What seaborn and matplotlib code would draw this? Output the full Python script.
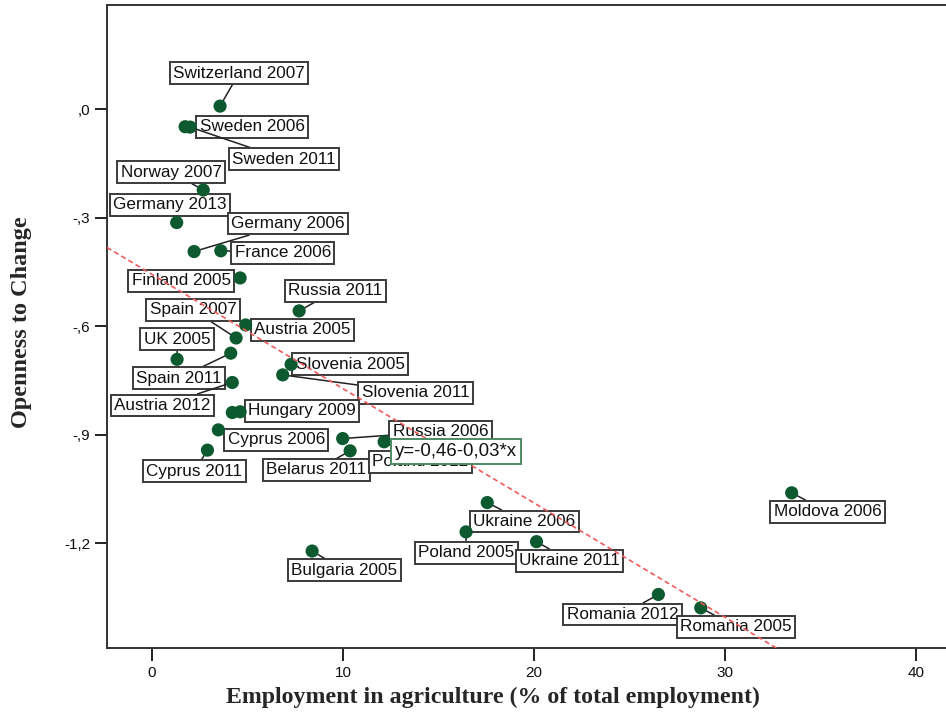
import matplotlib
matplotlib.use("Agg")
import matplotlib.pyplot as plt
import seaborn as sns
import pandas as pd
import numpy as np

# ---- data ----
labels = ["Switzerland 2007", "Sweden 2006", "Sweden 2011", "Norway 2007", "Germany 2013",
          "Germany 2006", "France 2006", "Finland 2005", "Russia 2011", "Spain 2007",
          "Austria 2005", "UK 2005", "Spain 2011", "Austria 2012", "Slovenia 2005",
          "Slovenia 2011", "Hungary 2009", "", "Cyprus 2006", "Cyprus 2011",
          "Belarus 2011", "Russia 2006", "Poland 2012", "Ukraine 2006", "Poland 2005",
          "Ukraine 2011", "Romania 2012", "Romania 2005", "Moldova 2006", "Bulgaria 2005"]
agriculture = [3.56, 1.73, 1.99, 2.68, 1.29,
               2.20, 3.60, 4.61, 7.70, 4.40,
               4.90, 1.31, 4.12, 4.20, 7.28,
               6.84, 4.61, 4.20, 3.47, 2.90,
               10.37, 9.98, 12.15, 17.55, 16.44,
               20.13, 26.51, 28.73, 33.49, 8.38]
openness = [0.008, -0.049, -0.050, -0.224, -0.314,
            -0.394, -0.392, -0.467, -0.558, -0.633,
            -0.597, -0.692, -0.675, -0.756, -0.706,
            -0.735, -0.837, -0.839, -0.887, -0.943,
            -0.945, -0.911, -0.920, -1.088, -1.169,
            -1.196, -1.342, -1.379, -1.061, -1.222]
equation = "y=-0,46-0,03*x"
x_ticks = [0, 10, 20, 30, 40]
x_ticklabels = ["0", "10", "20", "30", "40"]
y_ticks = [0.0, -0.3, -0.6, -0.9, -1.2]
y_ticklabels = [",0", "-,3", "-,6", "-,9", "-1,2"]

# ---- layout: label offsets in pixels (dx right, dy up) ----
label_offsets = [(19, 33), (67, 0), (94, -32), (-32, 18), (-7, 18),
                 (94, 28), (62, -2), (-59, -3), (36, 20), (-43, 28),
                 (57, -5), (0, 20), (-52, -25), (-70, -23), (59, 0),
                 (133, -18), (62, 1), (0, 0), (58, -10), (-13, -21),
                 (-34, -19), (98, 7), (36, -20), (37, -19), (0, -21),
                 (33, -19), (-36, -20), (35, -19), (36, -19), (32, -19)]

df = pd.DataFrame({"agri": agriculture, "open": openness, "label": labels})

sns.set_theme(style="white")
plt.rcParams["font.family"] = ["Liberation Sans", "DejaVu Sans"]

fig = plt.figure(figsize=(9.46, 7.15), dpi=100)
ax = fig.add_axes([107 / 946, 1 - 648 / 715, 1 - 107 / 946, (648 - 5) / 715])
ax.set_xlim(-2.36, 41.57)
ax.set_ylim(-1.490, 0.2875)

sns.regplot(data=df, x="agri", y="open", scatter=False, ci=None, truncate=False,
            ax=ax, line_kws=dict(color="#f05a5a", linestyle=(0, (3, 2)), linewidth=1.2, zorder=6))

sns.scatterplot(data=df, x="agri", y="open", ax=ax, color="#0d5a30", s=90,
                edgecolor="none", zorder=5, legend=False)

for (lab, xv, yv), (dx, dy) in zip(zip(labels, agriculture, openness), label_offsets):
    if not lab:
        continue
    ax.annotate(lab, xy=(xv, yv), xytext=(dx, dy), textcoords="offset pixels",
                ha="center", va="center", fontsize=12.3, color="#111111", zorder=4,
                bbox=dict(boxstyle="square,pad=0.2", fc="white", ec="#3a3a3a", lw=1.4),
                arrowprops=dict(arrowstyle="-", color="#222222", lw=1.1,
                                shrinkA=0, shrinkB=0))

ax.text(15.9, -0.947, equation, ha="center", va="center", fontsize=13.4, color="#111111",
        zorder=8, bbox=dict(boxstyle="square,pad=0.2", fc="white", ec="#4c8a64", lw=1.4))

ax.set_xticks(x_ticks)
ax.set_xticklabels(x_ticklabels, fontsize=11)
ax.set_yticks(y_ticks)
ax.set_yticklabels(y_ticklabels, fontsize=11)
ax.tick_params(axis="both", which="major", direction="out", length=9, width=1.4,
               color="#222222", labelcolor="#111111", bottom=True, left=True)
ax.tick_params(axis="x", pad=4)
ax.tick_params(axis="y", pad=3)

for side in ["left", "bottom", "top"]:
    ax.spines[side].set_visible(True)
    ax.spines[side].set_color("#333333")
    ax.spines[side].set_linewidth(1.4)
ax.spines["right"].set_visible(False)

ax.set_xlabel("")
ax.set_ylabel("")
fig.text(493 / 946, 1 - 697 / 715, "Employment in agriculture (% of total employment)",
         ha="center", va="center", fontsize=17.2, fontweight="bold",
         family=["Liberation Serif", "DejaVu Serif"])
fig.text(22 / 946, 1 - 322 / 715, "Openness to Change", rotation=90,
         ha="center", va="center", fontsize=17.5, fontweight="bold",
         family=["Liberation Serif", "DejaVu Serif"])

fig.savefig("out.png", dpi=100)
